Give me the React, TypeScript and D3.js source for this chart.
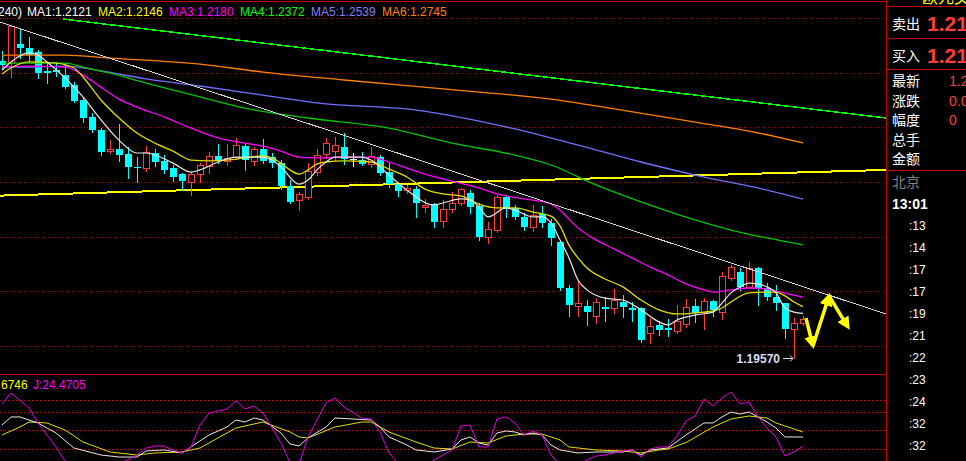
import * as d3 from "d3";
import { useEffect, useRef } from "react";

const W = 966;
const H = 461;

// candles (240 min bars), oldest first
const opens = [
  1.3044, 1.3037, 1.3107, 1.3092, 1.3077, 1.3008, 1.3011, 1.2993, 1.2957, 1.2902,
  1.284, 1.2792, 1.2715, 1.2722, 1.2704, 1.2657, 1.2653, 1.2708, 1.2679, 1.2653,
  1.2631, 1.2602, 1.2631, 1.266, 1.2697, 1.2679, 1.2693, 1.2733, 1.2679, 1.2722,
  1.2693, 1.2671, 1.2587, 1.2536, 1.2547, 1.2638, 1.2704, 1.2715, 1.273, 1.2686,
  1.2682, 1.2668, 1.2693, 1.2638, 1.2594, 1.2572, 1.2576, 1.251, 1.2521, 1.2459,
  1.2503, 1.2525, 1.2562, 1.2514, 1.2401, 1.2426, 1.2547, 1.2507, 1.2474, 1.2437,
  1.2485, 1.2452, 1.2382, 1.2214, 1.2148, 1.2148, 1.2112, 1.2144, 1.2141, 1.2163,
  1.2141, 1.2141, 1.2049, 1.2079, 1.2068, 1.2057, 1.2082, 1.2148, 1.2126, 1.2166,
  1.2126, 1.2251, 1.2273, 1.2218, 1.2287, 1.2214, 1.2181, 1.2159, 1.2064, 1.2086,
];
const highs = [
  1.3081, 1.3176, 1.3165, 1.3132, 1.3085, 1.3037, 1.3041, 1.3037, 1.2968, 1.2909,
  1.2854, 1.2799, 1.2755, 1.2814, 1.273, 1.2693, 1.2733, 1.2722, 1.27, 1.2664,
  1.2635, 1.2638, 1.2671, 1.2711, 1.2741, 1.2741, 1.2763, 1.2744, 1.273, 1.2759,
  1.2708, 1.2682, 1.2609, 1.2565, 1.2671, 1.2722, 1.2763, 1.2766, 1.2781, 1.2708,
  1.2711, 1.273, 1.27, 1.2671, 1.2598, 1.2591, 1.2587, 1.254, 1.2525, 1.2536,
  1.2565, 1.258, 1.2572, 1.2525, 1.2455, 1.2554, 1.2554, 1.2518, 1.2488, 1.2518,
  1.2514, 1.2466, 1.239, 1.2225, 1.2243, 1.217, 1.2177, 1.2181, 1.221, 1.2188,
  1.2163, 1.2144, 1.2104, 1.2093, 1.2101, 1.2152, 1.2174, 1.2174, 1.2177, 1.217,
  1.2273, 1.2298, 1.2287, 1.2309, 1.2291, 1.2232, 1.2225, 1.2159, 1.2104, 1.2112,
];
const lows = [
  1.3019, 1.2986, 1.3055, 1.3048, 1.2982, 1.2964, 1.299, 1.2946, 1.2894, 1.2821,
  1.2785, 1.27, 1.2708, 1.2679, 1.2616, 1.2602, 1.2642, 1.266, 1.2635, 1.2605,
  1.2572, 1.2554, 1.2602, 1.2635, 1.2671, 1.2664, 1.2686, 1.2646, 1.2664, 1.2671,
  1.2657, 1.2576, 1.2525, 1.2499, 1.254, 1.2627, 1.269, 1.2682, 1.2668, 1.266,
  1.2664, 1.2657, 1.2627, 1.2583, 1.2551, 1.2562, 1.2474, 1.2492, 1.2437, 1.2437,
  1.2492, 1.2518, 1.2488, 1.239, 1.2379, 1.2419, 1.2474, 1.2466, 1.2426, 1.2423,
  1.2437, 1.2371, 1.2207, 1.2112, 1.2112, 1.2079, 1.2086, 1.2093, 1.2123, 1.2108,
  1.2093, 1.2016, 1.2013, 1.2042, 1.2038, 1.2049, 1.2071, 1.209, 1.2064, 1.2112,
  1.2101, 1.2243, 1.2207, 1.2214, 1.2152, 1.217, 1.2134, 1.2031, 1.1957, 1.2079,
];
const closes = [
  1.303, 1.3172, 1.3092, 1.3066, 1.3, 1.3, 1.3004, 1.2949, 1.2898, 1.2836,
  1.2792, 1.2711, 1.2722, 1.27, 1.2657, 1.2653, 1.2711, 1.2675, 1.2646, 1.262,
  1.2605, 1.2631, 1.2664, 1.2697, 1.2679, 1.269, 1.2737, 1.2682, 1.2722, 1.2679,
  1.2671, 1.2587, 1.2529, 1.2558, 1.2642, 1.27, 1.2744, 1.2737, 1.2686, 1.2686,
  1.2668, 1.2697, 1.2635, 1.2594, 1.2569, 1.258, 1.2525, 1.2518, 1.2455, 1.2503,
  1.2525, 1.2576, 1.251, 1.2401, 1.243, 1.2547, 1.2503, 1.2474, 1.2437, 1.2481,
  1.2452, 1.2397, 1.2214, 1.2152, 1.2159, 1.2126, 1.2163, 1.2137, 1.217, 1.2144,
  1.2134, 1.2024, 1.2075, 1.206, 1.206, 1.2093, 1.2144, 1.2123, 1.2166, 1.2134,
  1.2258, 1.2291, 1.2218, 1.2287, 1.221, 1.2181, 1.2159, 1.2064, 1.2086, 1.2101,
];

// moving averages as [bar index, price]
const ma1: [number, number][] = [
  [0, 1.3011], [1, 1.3041], [3, 1.3074], [4, 1.3066], [5, 1.3041], [9, 1.2913], [11, 1.2829],
  [13, 1.2755], [15, 1.2708], [16, 1.2708], [19, 1.2671], [21, 1.2638], [22, 1.2646], [24, 1.2675],
  [26, 1.2693], [29, 1.2693], [30, 1.2682], [31, 1.2657], [33, 1.2594], [34, 1.2609], [35, 1.2646],
  [36, 1.2675], [37, 1.2693], [40, 1.2693], [41, 1.2682], [43, 1.2627], [45, 1.2572], [48, 1.2518],
  [49, 1.2525], [51, 1.254], [52, 1.2536], [53, 1.251], [54, 1.2474], [56, 1.2507], [57, 1.2499],
  [59, 1.2474], [60, 1.2474], [61, 1.2452], [62, 1.239], [63, 1.2324], [64, 1.2243], [65, 1.2207],
  [67, 1.2177], [69, 1.217], [71, 1.2134], [73, 1.209], [74, 1.2079], [75, 1.2097], [77, 1.2115],
  [79, 1.2126], [80, 1.2159], [81, 1.2196], [82, 1.2218], [83, 1.2232], [84, 1.2229], [85, 1.2218],
  [86, 1.2196], [87, 1.2141], [88, 1.2126], [89, 1.2121],
];
const ma2: [number, number][] = [
  [0, 1.2997], [1, 1.3019], [3, 1.3041], [6, 1.3037], [8, 1.3019], [9, 1.2986], [11, 1.2902],
  [13, 1.2836], [15, 1.2781], [17, 1.2744], [19, 1.2715], [21, 1.2682], [23, 1.2679], [25, 1.2682],
  [27, 1.269], [29, 1.2697], [30, 1.269], [31, 1.2671], [32, 1.2646], [33, 1.2631], [34, 1.2646],
  [35, 1.2668], [36, 1.2675], [38, 1.2679], [41, 1.2675], [43, 1.2649], [45, 1.262], [47, 1.2576],
  [49, 1.2558], [51, 1.2551], [53, 1.2521], [55, 1.2507], [57, 1.2507], [59, 1.2492], [61, 1.2477],
  [62, 1.2441], [63, 1.2371], [64, 1.2324], [65, 1.2287], [67, 1.2247], [69, 1.2218], [71, 1.217],
  [73, 1.2134], [75, 1.2119], [77, 1.2123], [79, 1.213], [80, 1.2141], [81, 1.2163], [83, 1.2196],
  [85, 1.2199], [86, 1.2199], [87, 1.2185], [88, 1.2163], [89, 1.2146],
];
const ma3: [number, number][] = [
  [0, 1.3022], [3, 1.3026], [7, 1.3022], [9, 1.2993], [11, 1.2949], [13, 1.2905], [15, 1.2876],
  [18, 1.284], [21, 1.2799], [24, 1.2763], [27, 1.2744], [29, 1.2733], [31, 1.2715], [33, 1.2693],
  [35, 1.269], [38, 1.2693], [41, 1.2693], [43, 1.2675], [45, 1.2653], [47, 1.2631], [50, 1.2605],
  [53, 1.258], [55, 1.2558], [58, 1.254], [61, 1.2521], [62, 1.2499], [63, 1.2466], [64, 1.2434],
  [66, 1.239], [68, 1.2357], [70, 1.2324], [72, 1.2291], [74, 1.2262], [76, 1.2229], [78, 1.2207],
  [79, 1.2199], [81, 1.2207], [83, 1.2214], [85, 1.221], [86, 1.2203], [88, 1.2188], [89, 1.218],
];
const ma4: [number, number][] = [
  [0, 1.3037], [7, 1.3037], [9, 1.3022], [12, 1.3], [16, 1.2964], [22, 1.2913], [27, 1.2872],
  [34, 1.2836], [43, 1.2799], [50, 1.2744], [57, 1.27], [61, 1.2664], [66, 1.2591], [71, 1.2529],
  [77, 1.2463], [81, 1.2426], [85, 1.2397], [89, 1.2372],
];
const ma5: [number, number][] = [
  [0, 1.3022], [3, 1.3022], [7, 1.3026], [11, 1.3008], [16, 1.2979], [22, 1.2953], [32, 1.2905],
  [35, 1.2891], [46, 1.2865], [57, 1.2796], [64, 1.2737], [71, 1.2675], [78, 1.262], [84, 1.258],
  [89, 1.2539],
];
const ma6: [number, number][] = [
  [0, 1.3066], [7, 1.3066], [12, 1.3055], [22, 1.3033], [29, 1.3004], [38, 1.2975], [53, 1.2931],
  [61, 1.2905], [66, 1.288], [77, 1.2821], [83, 1.2788], [89, 1.2745],
];

// straight lines running to the right edge
const trendLine: [number, number][] = [[-0.22, 1.3187], [98.22, 1.2119]];
const longGreen: [number, number][] = [[6.78, 1.3198], [98.22, 1.2836]];
const longYellow: [number, number][] = [[-0.22, 1.2552], [98.22, 1.2646]];

// projected zigzag
const forecast: [number, number][] = [[89.33, 1.2104], [90.11, 1.2002], [91.89, 1.2185], [94.0, 1.2071]];

// KDJ
const kVals: [number, number][] = [
  [0, 59.2], [1, 72.3], [2, 72.3], [3, 67.3], [4, 62.5], [6, 46.1], [8, 21.6], [11, 10.2], [13, 6.9],
  [15, 6.9], [16, 16.7], [18, 18.4], [20, 13.5], [21, 23.3], [23, 42.9], [25, 55.9], [26, 67.3],
  [27, 64.1], [28, 70.6], [29, 67.3], [31, 46.1], [32, 28.2], [33, 24.9], [34, 38.0], [36, 55.9],
  [37, 70.6], [39, 69.0], [41, 67.3], [42, 55.9], [43, 39.6], [45, 26.5], [46, 18.4], [48, 15.1],
  [50, 20.0], [51, 34.7], [52, 39.6], [53, 29.8], [54, 26.5], [55, 46.1], [56, 49.4], [57, 47.8],
  [58, 42.9], [59, 46.1], [60, 42.9], [61, 26.5], [62, 18.4], [64, 13.5], [66, 15.1], [69, 15.1],
  [70, 18.4], [71, 10.2], [72, 18.4], [74, 21.6], [76, 42.9], [78, 62.5], [79, 62.5], [80, 72.3],
  [81, 80.4], [82, 77.1], [83, 80.4], [84, 72.3], [85, 64.1], [86, 54.3], [87, 39.6], [89, 39.6],
];
const dVals: [number, number][] = [
  [0, 42.9], [2, 55.9], [3, 64.1], [5, 62.5], [7, 51.0], [9, 31.4], [12, 15.1], [15, 10.2], [17, 13.5],
  [20, 15.1], [22, 21.6], [24, 38.0], [26, 54.3], [29, 64.1], [32, 47.8], [33, 39.6], [34, 38.0],
  [37, 55.9], [40, 64.1], [41, 64.1], [43, 47.8], [46, 31.4], [48, 21.6], [50, 20.0], [52, 31.4],
  [54, 29.8], [56, 41.2], [58, 44.5], [60, 44.5], [62, 34.7], [63, 23.3], [66, 18.4], [69, 16.7],
  [71, 13.5], [73, 18.4], [74, 20.0], [76, 30.5], [79, 55.9], [81, 69.0], [83, 73.9], [85, 70.6],
  [86, 62.5], [88, 52.7], [89, 47.7],
];
const jVals: [number, number][] = [
  [0, 93.5], [1, 111.4], [3, 86.9], [4, 62.5], [6, 23.3], [7, 0.5], [8, -10], [10, -15], [12, -8],
  [13, -3], [14, 2], [15, 10.2], [16, 21.6], [17, 24.9], [18, 24.9], [19, 18.4], [20, 13.5], [21, 23.3],
  [22, 59.2], [23, 78.8], [25, 85.3], [26, 98.4], [27, 85.3], [28, 90.2], [29, 78.8], [31, 30],
  [32, -2], [33, -5], [34, 39.6], [36, 95.1], [37, 103.3], [38, 88.6], [40, 70.6], [41, 69.0],
  [42, 47.8], [43, 13.5], [44, -3], [45, -12], [46, -15], [47, -8], [48, 2], [50, 18.4], [51, 57.6],
  [52, 59.2], [53, 23.3], [54, 23.3], [55, 69.0], [56, 72.3], [57, 62.5], [58, 42.9], [59, 49.4],
  [60, 42.9], [61, 10.2], [62, -5], [63, -10], [64, -6], [65, 2], [66, 8.6], [67, 10.2], [68, 13.5],
  [69, 16.7], [70, 18.4], [71, 6.9], [72, 20.0], [73, 23.3], [74, 23.3], [75, 41.2], [76, 65.7],
  [77, 73.9], [78, 101.6], [79, 90.2], [80, 103.3], [81, 113.1], [82, 93.5], [83, 96.7], [84, 72.3],
  [85, 54.3], [86, 39.6], [87, 8.6], [88, 15.1], [89, 24.5],
];

const gridLevels = [1.2, 1.22, 1.24, 1.26, 1.28, 1.3, 1.32];
const kdjLevels = [20, 50, 80, 100];

const maLabels = ["MA1:1.2121", "MA2:1.2146", "MA3:1.2180", "MA4:1.2372", "MA5:1.2539", "MA6:1.2745"];
const periodLabel = "(240)";
const kdjLabels = ["6746", "J:24.4705"];

const quoteNames = ["卖出", "买入"];
const quoteValues = ["1.21", "1.21"];
const infoNames = ["最新", "涨跌", "幅度", "总手", "金额"];
const infoValues = ["1.2", "0.0", "0", "", ""];
const tickTimes = [":13", ":14", ":17", ":17", ":19", ":21", ":22", ":23", ":24", ":32", ":32"];

const maColors = ["#e8e8e8", "#e0e000", "#ff00ff", "#00c800", "#7070ff", "#ff8000"];
const legendColors = ["#ffffff", "#ffff00", "#ff00ff", "#00ff00", "#8080ff", "#ff8000"];
const UP = "#ff3c3c";
const DOWN = "#00ffff";
const NUM = "'Liberation Sans', Arial, sans-serif";
const CJK = "'Noto Sans CJK SC', sans-serif";

export default function App() {
  const svgRef = useRef<SVGSVGElement | null>(null);

  useEffect(() => {
    const svg = d3.select(svgRef.current);
    svg.selectAll("*").remove();

    const x = d3.scaleLinear().domain([0, 89]).range([2, 803]);
    const y = d3.scaleLinear().domain([1.2, 1.32]).range([346.5, 18.5]);
    const ky = d3.scaleLinear().domain([0, 100]).range([461.25, 400]);

    svg.append("rect").attr("width", W).attr("height", H).attr("fill", "#000");

    const defs = svg.append("defs");
    defs.append("clipPath").attr("id", "mainClip")
      .append("rect").attr("x", 0).attr("y", 2).attr("width", 886).attr("height", 372);
    defs.append("clipPath").attr("id", "kdjClip")
      .append("rect").attr("x", 0).attr("y", 375).attr("width", 886).attr("height", 86);
    defs.append("marker")
      .attr("id", "yArrow")
      .attr("markerUnits", "userSpaceOnUse")
      .attr("viewBox", "0 0 12 12")
      .attr("refX", 9).attr("refY", 6)
      .attr("markerWidth", 13).attr("markerHeight", 13)
      .attr("orient", "auto")
      .append("path").attr("d", "M0,0 L12,6 L0,12 Z").attr("fill", "#ffff00");

    // grid
    svg.selectAll(".grid")
      .data(gridLevels)
      .join("line")
      .attr("class", "grid")
      .attr("x1", 0).attr("x2", 886)
      .attr("y1", (d) => Math.floor(y(d)) + 0.5)
      .attr("y2", (d) => Math.floor(y(d)) + 0.5)
      .attr("stroke", "#a80000")
      .attr("stroke-dasharray", "1,2");

    svg.selectAll(".kgrid")
      .data(kdjLevels)
      .join("line")
      .attr("class", "kgrid")
      .attr("x1", 0).attr("x2", 886)
      .attr("y1", (d) => Math.floor(ky(d)) + 0.5)
      .attr("y2", (d) => Math.floor(ky(d)) + 0.5)
      .attr("stroke", "#d00000")
      .attr("stroke-dasharray", "2,2");

    // frame
    const frame = svg.append("g").attr("stroke", "#c80000").attr("shape-rendering", "crispEdges");
    frame.append("line").attr("x1", 0).attr("x2", 886).attr("y1", 1.5).attr("y2", 1.5);
    frame.append("line").attr("x1", 0).attr("x2", 886).attr("y1", 374.5).attr("y2", 374.5);
    frame.append("line").attr("x1", 886.5).attr("x2", 886.5).attr("y1", 0).attr("y2", H);
    [6.5, 38.5, 69.5, 170.5].forEach((yy) =>
      frame.append("line").attr("x1", 886).attr("x2", W).attr("y1", yy).attr("y2", yy)
    );

    const main = svg.append("g").attr("clip-path", "url(#mainClip)");
    const straight = d3.line<[number, number]>().x((d) => x(d[0])).y((d) => y(d[1]));

    // long straight lines
    main.append("path").datum(longYellow).attr("d", straight)
      .attr("stroke", "#ffff00").attr("stroke-width", 2).attr("fill", "none")
      .attr("shape-rendering", "crispEdges");
    main.append("path").datum(longGreen).attr("d", straight)
      .attr("stroke", "#00ff00").attr("stroke-width", 1.5).attr("fill", "none")
      .attr("shape-rendering", "crispEdges");

    // candles
    const idx = d3.range(opens.length);
    const colorOf = (i: number) =>
      closes[i] > opens[i] ? UP : closes[i] < opens[i] ? DOWN : "#ffffff";

    main.selectAll(".wick")
      .data(idx)
      .join("line")
      .attr("class", "wick")
      .attr("x1", (i) => Math.round(x(i)) + 0.5)
      .attr("x2", (i) => Math.round(x(i)) + 0.5)
      .attr("y1", (i) => Math.round(y(highs[i])))
      .attr("y2", (i) => Math.round(y(lows[i])) + 1)
      .attr("stroke", colorOf);

    main.selectAll(".body")
      .data(idx)
      .join("rect")
      .attr("class", "body")
      .each(function (i) {
        const top = Math.round(y(Math.max(opens[i], closes[i])));
        const bot = Math.round(y(Math.min(opens[i], closes[i])));
        const cx = Math.round(x(i));
        const r = d3.select(this);
        if (closes[i] > opens[i]) {
          r.attr("x", cx - 2.5).attr("y", top + 0.5).attr("width", 6)
            .attr("height", Math.max(bot - top, 1))
            .attr("fill", "#000").attr("stroke", UP);
        } else {
          r.attr("x", cx - 3).attr("y", top).attr("width", 7)
            .attr("height", Math.max(bot - top, 1))
            .attr("fill", colorOf(i));
        }
      });

    // moving averages
    const smooth = d3.line<[number, number]>()
      .x((d) => x(d[0])).y((d) => y(d[1]))
      .curve(d3.curveMonotoneX);
    const mas = [ma1, ma2, ma3, ma4, ma5, ma6];
    for (let k = mas.length - 1; k >= 0; k--) {
      main.append("path").datum(mas[k]).attr("d", smooth)
        .attr("fill", "none").attr("stroke", maColors[k])
        .attr("stroke-width", k === 0 ? 1.2 : 1.3);
    }

    main.append("path").datum(trendLine).attr("d", straight)
      .attr("stroke", "#d0d0d0").attr("stroke-width", 1).attr("fill", "none")
      .attr("shape-rendering", "crispEdges");

    // forecast zigzag
    for (let s = 0; s < forecast.length - 1; s++) {
      main.append("line")
        .attr("x1", x(forecast[s][0])).attr("y1", y(forecast[s][1]))
        .attr("x2", x(forecast[s + 1][0])).attr("y2", y(forecast[s + 1][1]))
        .attr("stroke", "#ffff00").attr("stroke-width", 3.5)
        .attr("marker-end", "url(#yArrow)");
    }

    // lowest price label
    const lowIdx = d3.minIndex(lows);
    const lx = Math.round(x(lowIdx));
    const ly = Math.round(y(lows[lowIdx]));
    svg.append("text")
      .attr("x", lx - 14).attr("y", ly + 4.5)
      .attr("text-anchor", "end")
      .attr("font-family", NUM).attr("font-weight", "bold").attr("font-size", 12)
      .attr("fill", "#dcdcf0")
      .text(lows[lowIdx].toFixed(5));
    svg.append("path")
      .attr("d", `M${lx - 11},${ly + 0.5} H${lx - 1} M${lx - 4},${ly - 2.5} L${lx - 1},${ly + 0.5} L${lx - 4},${ly + 3.5}`)
      .attr("stroke", "#dcdcf0").attr("fill", "none");

    // KDJ panel
    const kdj = svg.append("g").attr("clip-path", "url(#kdjClip)");
    const kLine = d3.line<[number, number]>().x((d) => x(d[0])).y((d) => ky(d[1]));
    kdj.append("path").datum(dVals).attr("d", kLine).attr("fill", "none").attr("stroke", "#e0e000");
    kdj.append("path").datum(kVals).attr("d", kLine).attr("fill", "none").attr("stroke", "#e8e8e8");
    kdj.append("path").datum(jVals).attr("d", kLine).attr("fill", "none").attr("stroke", "#e000e0");

    // legends
    const leg = svg.append("g").attr("font-family", NUM).attr("font-size", 12);
    leg.append("text").attr("x", -6).attr("y", 16).attr("fill", "#ffffff").text(periodLabel);
    maLabels.forEach((t, k) => {
      leg.append("text").attr("x", 27 + 71 * k).attr("y", 16).attr("fill", legendColors[k]).text(t);
    });
    leg.append("text").attr("x", 1).attr("y", 389).attr("fill", "#ffff00").text(kdjLabels[0]);
    leg.append("text").attr("x", 33).attr("y", 389).attr("fill", "#ff00ff").text(kdjLabels[1]);

    // right panel
    const rp = svg.append("g");
    rp.append("text").attr("x", 922).attr("y", 3).attr("font-family", CJK).attr("font-size", 16)
      .attr("fill", "#ffff00").text("欧元美元");
    quoteNames.forEach((t, k) => {
      rp.append("text").attr("x", 892).attr("y", 29 + 32 * k).attr("font-family", CJK)
        .attr("font-size", 14).attr("fill", "#ffffff").text(t);
      rp.append("text").attr("x", 927).attr("y", 31 + 31.5 * k).attr("font-family", NUM)
        .attr("font-weight", "bold").attr("font-size", 21).attr("fill", UP).text(quoteValues[k]);
    });
    infoNames.forEach((t, k) => {
      rp.append("text").attr("x", 892).attr("y", 86 + 19.5 * k).attr("font-family", CJK)
        .attr("font-size", 14).attr("fill", "#ffffff").text(t);
      rp.append("text").attr("x", 966).attr("y", 86 + 19.5 * k).attr("text-anchor", "start")
        .attr("dx", -17).attr("font-family", NUM).attr("font-size", 14).attr("fill", UP)
        .text(infoValues[k]);
    });
    rp.append("text").attr("x", 892).attr("y", 187).attr("font-family", CJK)
      .attr("font-size", 14).attr("fill", "#808080").text("北京");
    rp.append("text").attr("x", 892).attr("y", 209).attr("font-family", NUM)
      .attr("font-weight", "bold").attr("font-size", 14).attr("fill", "#ffffff").text("13:01");
    tickTimes.forEach((t, k) => {
      rp.append("text").attr("x", 909).attr("y", 230 + 22 * k).attr("font-family", NUM)
        .attr("font-size", 12).attr("fill", "#ffffff").text(t);
    });
  }, []);

  return (
    <svg
      ref={svgRef}
      width={W}
      height={H}
      style={{ position: "fixed", left: 0, top: 0, display: "block" }}
    ></svg>
  );
}
